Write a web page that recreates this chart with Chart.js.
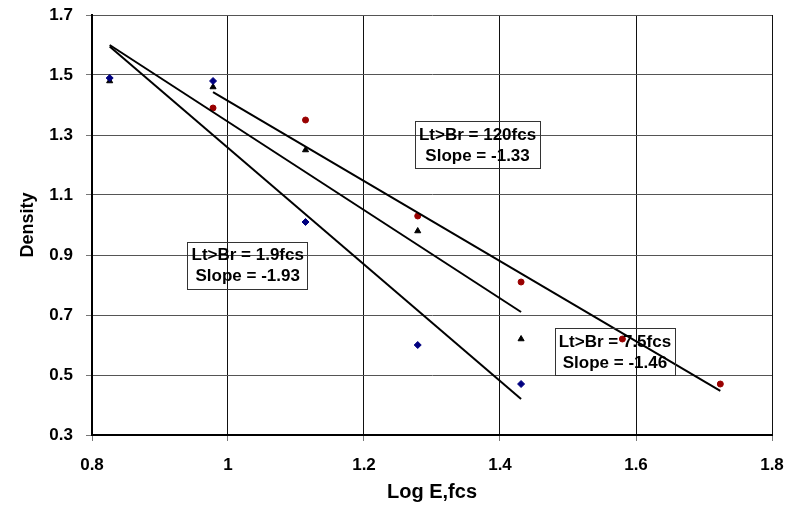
<!DOCTYPE html>
<html lang="en">
<head>
    <meta charset="UTF-8">
    <title>Density vs Log E</title>
    <script src="https://cdn.jsdelivr.net/npm/chart.js"></script>
    <style>
        body {
            margin: 0;
            padding: 0;
            background: #fff;
            overflow: hidden;
        }
        #densityChart {
            display: block;
        }
    </style>
</head>
<body>
    <canvas id="densityChart" width="790" height="508"></canvas>

    <script>
        // Log exposure steps (x values)
        const logE = [0.826, 0.978, 1.114, 1.279, 1.431, 1.580, 1.724];

        const density19 = [1.49, 1.48, 1.01, 0.60, 0.47];         // Lt>Br = 1.9fcs, diamonds
        const density75 = [1.48, 1.46, 1.25, 0.98, 0.62];         // Lt>Br = 7.5fcs, triangles
        const density120 = [1.39, 1.35, 1.03, 0.81, 0.62, 0.47]; // Lt>Br = 120fcs, circles (starts at 2nd step)

        // Fitted lines, start and end points
        const fit19 = [[0.826, 1.595], [1.431, 0.42]];
        const fit75 = [[0.826, 1.60], [1.431, 0.71]];
        const fit120 = [[0.978, 1.443], [1.724, 0.447]];

        // Text boxes: label lines and centre in data units
        const notes = [
            { lines: ['Lt>Br = 120fcs', 'Slope = -1.33'], x: 1.367, y: 1.267 },
            { lines: ['Lt>Br = 1.9fcs', 'Slope = -1.93'], x: 1.029, y: 0.865 },
            { lines: ['Lt>Br = 7.5fcs', 'Slope = -1.46'], x: 1.569, y: 0.577 }
        ];

        const xTicks = [0.8, 1, 1.2, 1.4, 1.6, 1.8];
        const yTicks = [0.3, 0.5, 0.7, 0.9, 1.1, 1.3, 1.5, 1.7];

        function toPoints(xs, ys) {
            return ys.map((y, i) => ({ x: xs[i], y: y }));
        }
        function toLine(seg) {
            return seg.map(p => ({ x: p[0], y: p[1] }));
        }

        const FONT = '"Liberation Sans", Arial, sans-serif';

        // draws the boxed notes
        const notesPlugin = {
            id: 'notes',
            afterDatasetsDraw(chart) {
                const ctx = chart.ctx;
                const xs = chart.scales.x;
                const ys = chart.scales.y;
                ctx.save();
                ctx.font = 'bold 17px ' + FONT;
                ctx.textAlign = 'center';
                ctx.textBaseline = 'middle';
                notes.forEach(n => {
                    const cx = xs.getPixelForValue(n.x);
                    const cy = ys.getPixelForValue(n.y);
                    const w = Math.max(...n.lines.map(t => ctx.measureText(t).width)) + 8;
                    const h = 47;
                    ctx.strokeStyle = '#333';
                    ctx.lineWidth = 1;
                    ctx.strokeRect(Math.round(cx - w / 2) + 0.5, Math.round(cy - h / 2) + 0.5, Math.round(w), h);
                    ctx.fillStyle = '#000';
                    ctx.fillText(n.lines[0], cx, cy - 10);
                    ctx.fillText(n.lines[1], cx, cy + 11);
                });
                ctx.restore();
            }
        };

        const ctx = document.getElementById('densityChart').getContext('2d');

        const lineStyle = {
            type: 'line',
            showLine: true,
            borderColor: '#000',
            borderWidth: 2,
            pointRadius: 0,
            fill: false
        };

        const chart = new Chart(ctx, {
            type: 'scatter',
            data: {
                datasets: [
                    Object.assign({ label: 'fit 1.9fcs', data: toLine(fit19) }, lineStyle),
                    Object.assign({ label: 'fit 7.5fcs', data: toLine(fit75) }, lineStyle),
                    Object.assign({ label: 'fit 120fcs', data: toLine(fit120) }, lineStyle),
                    {
                        label: 'Lt>Br = 1.9fcs',
                        data: toPoints(logE, density19),
                        pointStyle: 'rectRot',
                        pointRadius: 3.5,
                        backgroundColor: '#000080',
                        borderColor: '#000080',
                        borderWidth: 1
                    },
                    {
                        label: 'Lt>Br = 7.5fcs',
                        data: toPoints(logE, density75),
                        pointStyle: 'triangle',
                        pointRadius: 3.5,
                        backgroundColor: '#000',
                        borderColor: '#000',
                        borderWidth: 1
                    },
                    {
                        label: 'Lt>Br = 120fcs',
                        data: toPoints(logE.slice(1), density120),
                        pointStyle: 'circle',
                        pointRadius: 3,
                        backgroundColor: '#990000',
                        borderColor: '#990000',
                        borderWidth: 1
                    }
                ]
            },
            options: {
                responsive: false,
                animation: false,
                devicePixelRatio: 1,
                layout: {
                    padding: { top: 15, right: 18, bottom: 0, left: 0 }
                },
                plugins: {
                    legend: { display: false },
                    tooltip: { enabled: false }
                },
                scales: {
                    x: {
                        type: 'linear',
                        min: 0.8,
                        max: 1.8,
                        afterFit(scale) {
                            scale.height = 73;
                            scale.paddingLeft = 0;
                            scale.paddingRight = 0;
                        },
                        afterBuildTicks(scale) { scale.ticks = xTicks.map(v => ({ value: v })); },
                        border: { display: true, color: '#000', width: 2 },
                        grid: { color: '#111', lineWidth: 1, tickLength: 6, tickColor: '#777' },
                        ticks: {
                            color: '#000',
                            padding: 14,
                            font: { family: FONT, size: 17, weight: 'bold' },
                            callback: v => String(v)
                        },
                        title: {
                            display: true,
                            text: 'Log E,fcs',
                            color: '#000',
                            font: { family: FONT, size: 20, weight: 'bold' },
                            padding: { top: 0, bottom: 4 }
                        }
                    },
                    y: {
                        type: 'linear',
                        min: 0.3,
                        max: 1.7,
                        afterFit(scale) {
                            scale.width = 92;
                            scale.paddingTop = 0;
                            scale.paddingBottom = 0;
                        },
                        afterBuildTicks(scale) { scale.ticks = yTicks.map(v => ({ value: v })); },
                        border: { display: true, color: '#000', width: 2 },
                        grid: { color: '#555', lineWidth: 1, tickLength: 6, tickColor: '#777' },
                        ticks: {
                            color: '#000',
                            padding: 13,
                            font: { family: FONT, size: 17, weight: 'bold' },
                            callback: v => v.toFixed(1)
                        },
                        title: {
                            display: true,
                            text: 'Density',
                            color: '#000',
                            font: { family: FONT, size: 18, weight: 'bold' },
                            padding: { top: 17, bottom: 0 }
                        }
                    }
                }
            },
            plugins: [notesPlugin]
        });
    </script>
</body>
</html>
